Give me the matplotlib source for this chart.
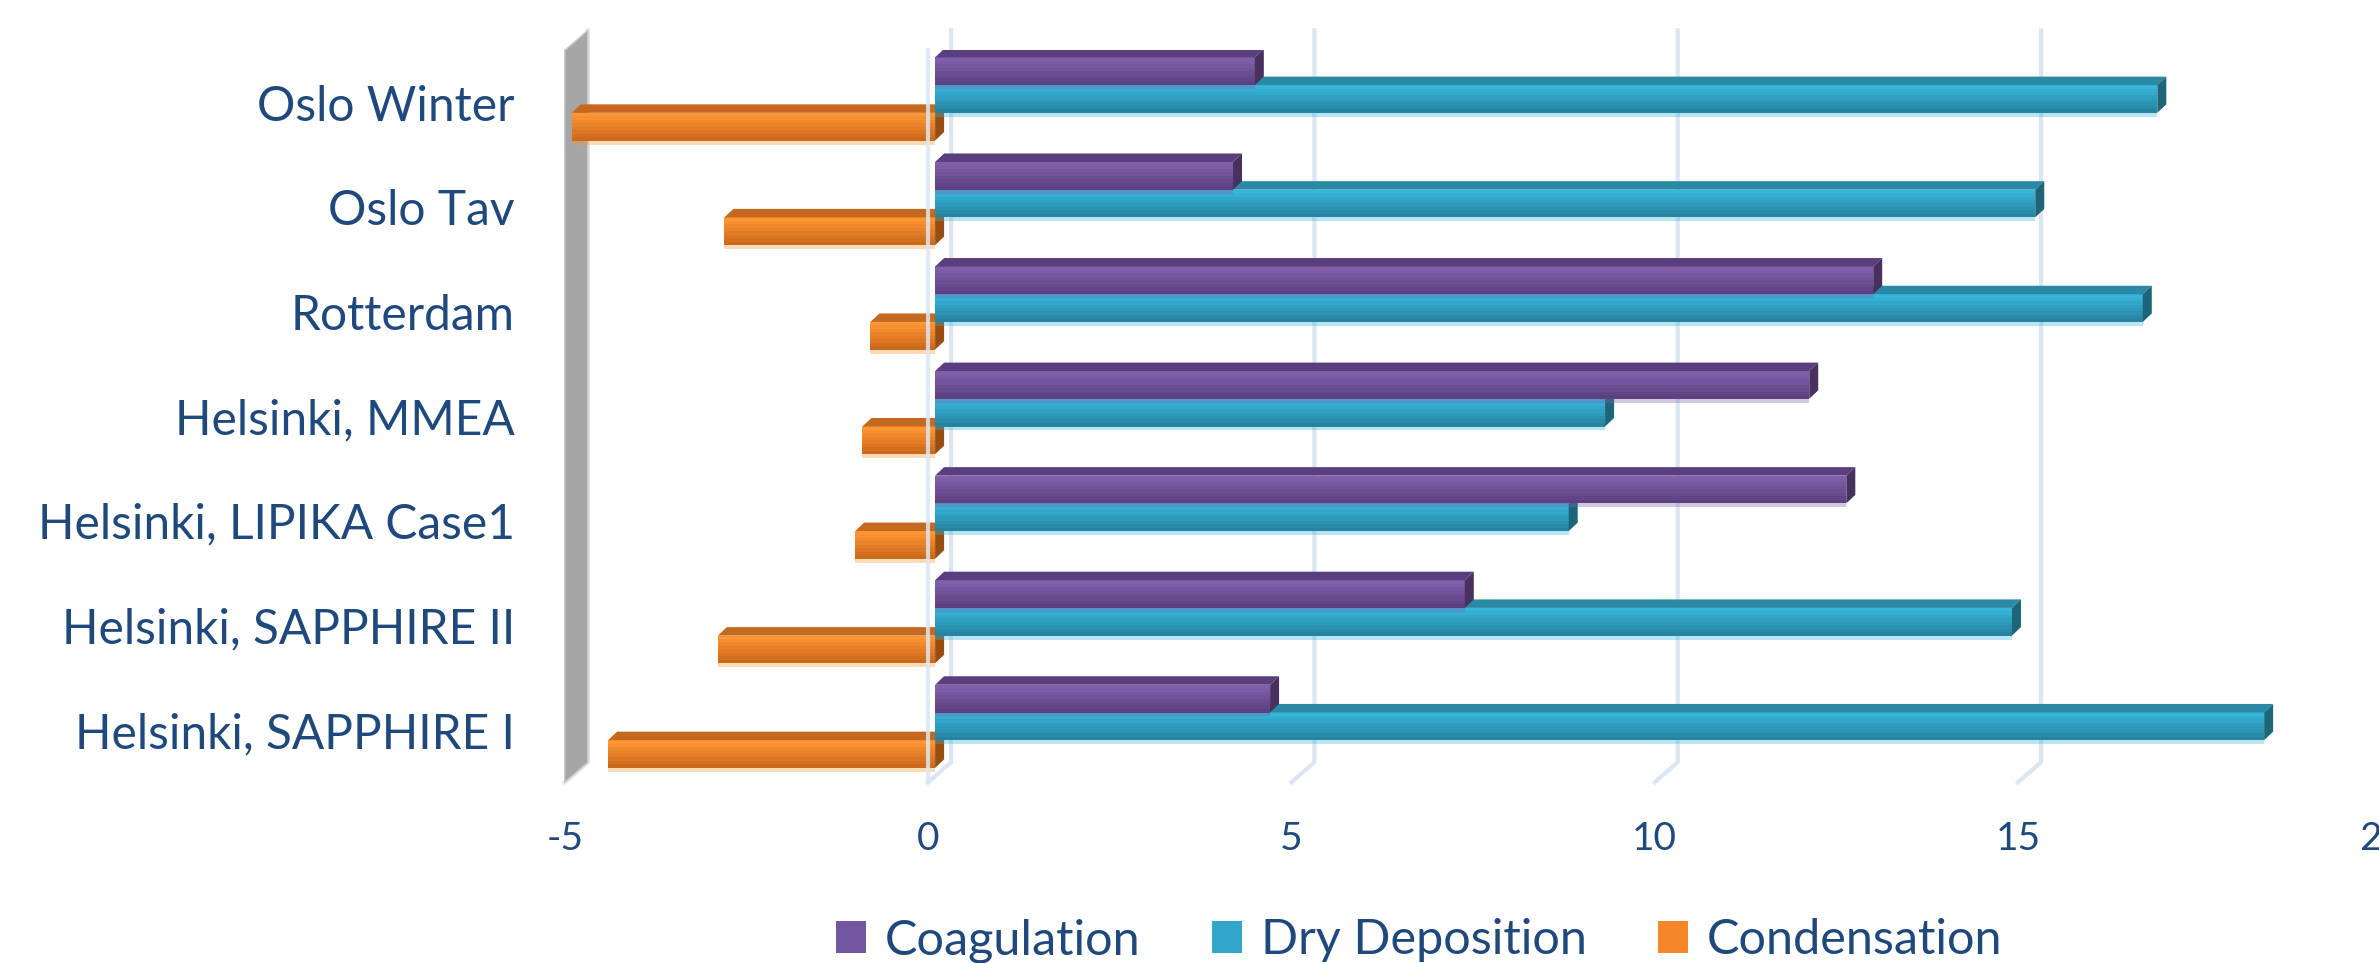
import matplotlib.pyplot as plt
from matplotlib.patches import Polygon, Patch
from matplotlib.colors import to_rgb
import numpy as np

plt.rcParams['font.family'] = ['Lato', 'DejaVu Sans']

# data (bottom -> top as drawn)
categories = ["Helsinki, SAPPHIRE I", "Helsinki, SAPPHIRE II", "Helsinki, LIPIKA Case1",
              "Helsinki, MMEA", "Rotterdam", "Oslo Tav", "Oslo Winter"]
coagulation = [4.61, 7.29, 12.54, 12.03, 12.91, 4.10, 4.40]
dry_deposition = [18.29, 14.82, 8.72, 9.22, 16.62, 15.14, 16.82]
condensation = [-4.50, -2.99, -1.10, -1.00, -0.89, -2.90, -5.00]
series_names = ["Coagulation", "Dry Deposition", "Condensation"]
x_ticks = [-5, 0, 5, 10, 15, 20]

# (front top, front bottom, top face, end face, legend)
styles = {
    "Coagulation": ("#8060AB", "#5C4180", "#5A3F7E", "#47315F", "#7356A0"),
    "Dry Deposition": ("#37B5DA", "#2784A1", "#2A89A4", "#1D6679", "#31A6C8"),
    "Condensation": ("#FF9633", "#CC6A1C", "#C4691F", "#964E13", "#F5872A"),
}
text_color = "#1F497D"
grid_color = "#DCE6F2"

W, H = 2379, 963
fig = plt.figure(figsize=(W / 100, H / 100), dpi=100)
ax_box = [0.2374, 0.1877, 0.7636, 0.7600]
ax = fig.add_axes(ax_box)
ax.set_xlim(-5, 20)
ax.set_ylim(-0.5, 6.5)
ax.set_facecolor("none")
for sp in ax.spines.values():
    sp.set_visible(False)

# pixels -> data units
ppx = W * ax_box[2] / 25.0
ppy = H * ax_box[3] / 7.0
wall_dx, wall_dy = 23 / ppx, 20 / ppy
face_dx, face_dy = 9 / ppx, 8.5 / ppy
bar_shift = 7 / ppx
bar_h = 0.265
group_shift = 0.035

# back wall gridlines with floor diagonals
for v in x_ticks:
    ax.plot([v, v + wall_dx, v + wall_dx], [-0.5, -0.5 + wall_dy, 6.5 + wall_dy],
            color=grid_color, lw=3, zorder=0, clip_on=False, solid_joinstyle="miter")

# grey side wall at -5
wall = Polygon([(-5, -0.5), (-5 + wall_dx, -0.5 + wall_dy), (-5 + wall_dx, 6.5 + wall_dy), (-5, 6.5)],
               closed=True, facecolor="#A6A6A6", edgecolor="#C9C9C9", lw=1, zorder=1, clip_on=False)
ax.add_patch(wall)

# front line at zero
ax.plot([0, 0], [-0.5, 6.5], color=grid_color, lw=3, alpha=0.85, zorder=10, clip_on=False)


def mix(c1, c2, t):
    a, b = np.array(to_rgb(c1)), np.array(to_rgb(c2))
    return tuple(a + (b - a) * t)


series = [coagulation, dry_deposition, condensation]
n_slices = 8
for s, (name, vals) in enumerate(zip(series_names, series)):
    c_top, c_bot, c_face, c_end, _ = styles[name]
    z = 5 - s
    for i, v in enumerate(vals):
        yc = i + group_shift + (1 - s) * bar_h
        yb, yt = yc - bar_h / 2, yc + bar_h / 2
        x0, x1 = min(0, v) + bar_shift, max(0, v) + bar_shift
        # soft shadow under the bar
        ax.barh(yb - 2 / ppy, x1 - x0, left=x0, height=4 / ppy, color=c_top, alpha=0.35,
                zorder=z, lw=0)
        # front face, vertical gradient
        sh = bar_h / n_slices
        for k in range(n_slices):
            col = mix(c_top, c_bot, k / (n_slices - 1))
            ax.barh(yt - (k + 0.5) * sh, x1 - x0, left=x0, height=sh * 1.05, color=col,
                    zorder=z, lw=0)
        top = Polygon([(x0, yt), (x1, yt), (x1 + face_dx, yt + face_dy), (x0 + face_dx, yt + face_dy)],
                      closed=True, facecolor=c_face, lw=0, zorder=z)
        end = Polygon([(x1, yb), (x1, yt), (x1 + face_dx, yt + face_dy), (x1 + face_dx, yb + face_dy)],
                      closed=True, facecolor=c_end, lw=0, zorder=z)
        ax.add_patch(top)
        ax.add_patch(end)

ax.set_yticks(range(len(categories)))
ax.set_yticklabels(categories)
ax.set_xticks(x_ticks)
ax.set_xticklabels([str(t) for t in x_ticks])
ax.tick_params(axis="y", length=0, pad=36, labelsize=34.5, labelcolor=text_color)
ax.tick_params(axis="x", length=0, pad=28, labelsize=28, labelcolor=text_color)

handles = [Patch(facecolor=styles[n][4], edgecolor="none") for n in series_names]
fig.legend(handles, series_names, loc="center", bbox_to_anchor=(0.5965, 0.0235), ncol=3,
           frameon=False, fontsize=35, labelcolor=text_color, handlelength=0.62,
           handleheight=0.62, handletextpad=0.39, columnspacing=1.46, borderpad=0)

fig.savefig("out.png", dpi=100)
